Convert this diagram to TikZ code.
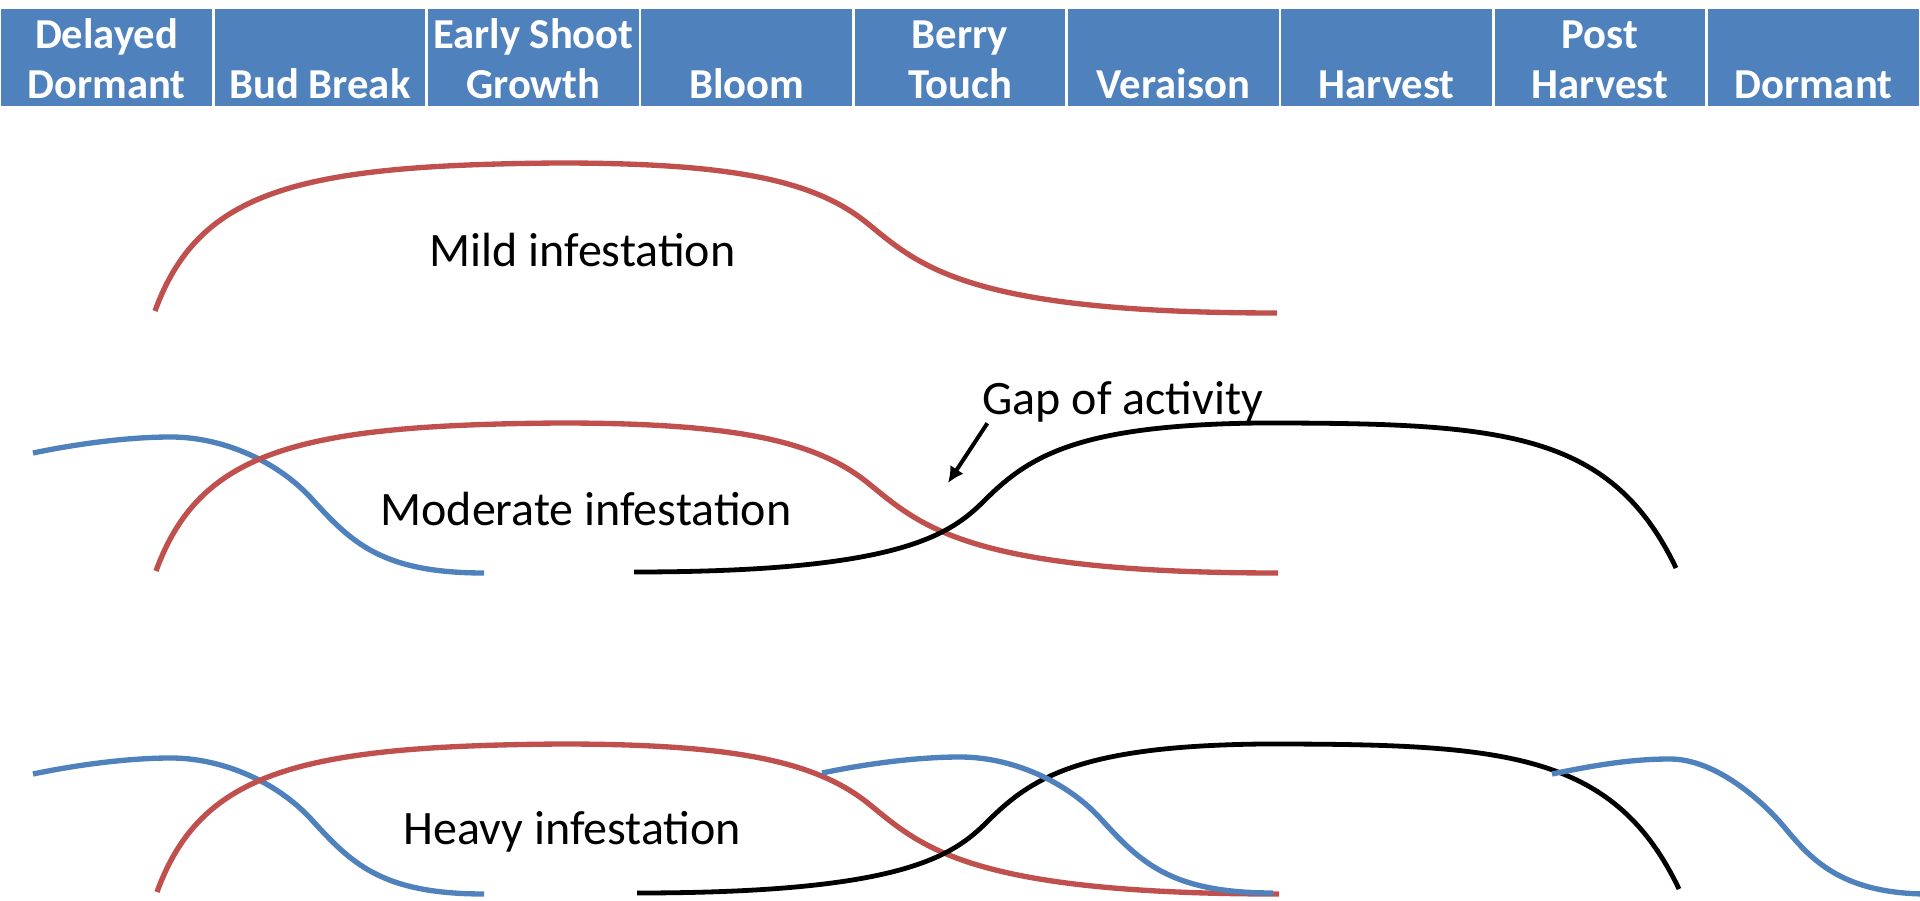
\documentclass[tikz,border=0pt]{standalone}
\usepackage{fontspec}
\setmainfont{Carlito}
\usetikzlibrary{positioning, arrows.meta}
\definecolor{StageBlue}{HTML}{4F81BD}
\definecolor{CurveRed}{HTML}{C0504D}
\tikzstyle{Stage} = [rectangle, fill=StageBlue, draw=white, line width=1pt,
minimum width=80pt, minimum height=37.125pt, inner sep=0pt]
\tikzstyle{StageText} = [text=white, font=\bfseries\fontsize{16}{18.6}\selectfont,
align=center, inner sep=0pt]
\tikzstyle{Label} = [font=\fontsize{18}{21.6}\selectfont, inner sep=0pt, anchor=base west]
\tikzstyle{RedCurve} = [line width=2pt, CurveRed]
\tikzstyle{BlueCurve} = [line width=2pt, StageBlue]
\tikzstyle{BlackCurve} = [line width=1.8pt, black]
\tikzstyle{GapArrow} = [line width=1.5pt, -{Latex[length=6pt, width=6pt]}]

% waves, #1 = where the wave is put
\newcommand{\redwave}[1]{
\draw [RedCurve, shift={#1}] (0,0) .. controls (44,-121) and (144,-146) .. (404,-148)
    .. controls (580,-148) and (660,-130) .. (712,-88)
    .. controls (764,-46) and (810,2) .. (1122,2);}
\newcommand{\bluewave}[1]{
\draw [BlueCurve, shift={#1}] (-138,16) .. controls (-90,6) and (-40,0) .. (0,0)
    .. controls (50,0) and (105,23) .. (140,61)
    .. controls (180,105) and (210,136) .. (313,136);}
\newcommand{\blackwave}[1]{
\draw [BlackCurve, shift={#1}] (0,0) .. controls (266,0) and (316,-37) .. (351,-72)
    .. controls (396,-117) and (446,-147) .. (626,-149)
    .. controls (866,-149) and (976,-142) .. (1042,-4);}

\begin{document}
\begin{tikzpicture}[x=0.375pt, y=-0.375pt]
    \useasboundingbox (0,0) rectangle (1920,901);

    % growth stages
    \foreach \i/\txt in {1/{Delayed\\Dormant}, 2/{Bud Break}, 3/{Early Shoot\\Growth},
        4/{Bloom}, 5/{Berry\\Touch}, 6/{Veraison}, 7/{Harvest}, 8/{Post\\Harvest}, 9/{Dormant}}{
        \node [Stage] (cell\i) at ({(\i-0.5)*213.333},57.5) {};
        \node [StageText, above=3.4pt of cell\i.south] (stage\i) {\txt};
    }

    % mild
    \redwave{(155,311)}
    \node [Label] (mild) at (429,267) {Mild infestation};

    % moderate
    \bluewave{(171,437)}
    \redwave{(156,571)}
    \blackwave{(634,572)}
    \node [Label] (moderate) at (380,526) {Moderate infestation};
    \node [Label] (gap) at (982,415) {Gap of activity};
    \coordinate (gaptip) at (948,483);
    \draw [GapArrow] ([xshift=2pt]gap.south west) -- (gaptip);

    % heavy
    \bluewave{(171,758)}
    \redwave{(157,892)}
    \blackwave{(637,893)}
    \draw [BlueCurve] (822,773) .. controls (870,763) and (920,757) .. (960,757)
        .. controls (1010,757) and (1065,780) .. (1100,818)
        .. controls (1140,862) and (1170,893) .. (1273,893);
    \draw [BlueCurve] (1552,774) .. controls (1600,764) and (1635,759) .. (1670,759)
        .. controls (1715,759) and (1762,800) .. (1785,828)
        .. controls (1810,858) and (1840,893) .. (1925,894);
    \node [Label] (heavy) at (403,844) {Heavy infestation};
\end{tikzpicture}
\end{document}
